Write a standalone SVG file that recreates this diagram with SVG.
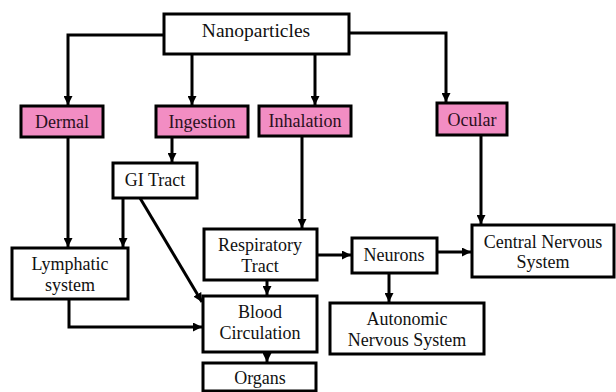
<svg xmlns="http://www.w3.org/2000/svg" width="616" height="392" viewBox="0 0 616 392" font-family="Liberation Serif, DejaVu Serif, serif">
<defs>
<style>
.box{fill:#fff;stroke:#000;stroke-width:3}
.pink{fill:#f28dc3;stroke:#000;stroke-width:3}
text{font-size:18px;fill:#111;text-anchor:middle}
.pt{fill:#2a1020}
.c{fill:none;stroke:#000;stroke-width:3}
</style>
<marker id="ah" viewBox="0 0 10 10" refX="10" refY="5" markerWidth="3" markerHeight="3" orient="auto" markerUnits="strokeWidth">
<path d="M0,0 L10,5 L0,10 Z" fill="#000"/>
</marker>
</defs>
<g id="connectors">
<path class="c" d="M164,35 H68 V105" marker-end="url(#ah)"/>
<path class="c" d="M192,54 V105" marker-end="url(#ah)"/>
<path class="c" d="M315,54 V105" marker-end="url(#ah)"/>
<path class="c" d="M349,33 H446 V102" marker-end="url(#ah)"/>
<path class="c" d="M172,137 V162" marker-end="url(#ah)"/>
<path class="c" d="M68,137 V247" marker-end="url(#ah)"/>
<path class="c" d="M123,198 V247" marker-end="url(#ah)"/>
<path class="c" d="M140,198 L202,302" marker-end="url(#ah)"/>
<path class="c" d="M302,136 V228" marker-end="url(#ah)"/>
<path class="c" d="M267,280 V295" marker-end="url(#ah)"/>
<path class="c" d="M267,352 V362" marker-end="url(#ah)"/>
<path class="c" d="M69,299 V327 H202" marker-end="url(#ah)"/>
<path class="c" d="M317,255 H351" marker-end="url(#ah)"/>
<path class="c" d="M437,252 H471" marker-end="url(#ah)"/>
<path class="c" d="M481,135 V224" marker-end="url(#ah)"/>
<path class="c" d="M389,273 V302" marker-end="url(#ah)"/>
</g>
<g id="nanoparticles"><rect class="box" x="164" y="14" width="185" height="40"/><text x="256" y="37" style="font-size:19.5px">Nanoparticles</text></g>
<g id="dermal"><rect class="pink" x="21" y="106" width="82" height="31"/><text class="pt" x="62" y="128">Dermal</text></g>
<g id="ingestion"><rect class="pink" x="156" y="106" width="92" height="31"/><text class="pt" x="202" y="128">Ingestion</text></g>
<g id="inhalation"><rect class="pink" x="259" y="106" width="92" height="30"/><text class="pt" x="305" y="127">Inhalation</text></g>
<g id="ocular"><rect class="pink" x="437" y="103" width="70" height="32"/><text class="pt" x="472" y="126">Ocular</text></g>
<g id="gi-tract"><rect class="box" x="113" y="163" width="84" height="35"/><text x="155" y="186">GI Tract</text></g>
<g id="lymphatic"><rect class="box" x="12" y="248" width="116" height="51"/><text x="70" y="270">Lymphatic</text><text x="70" y="291">system</text></g>
<g id="respiratory"><rect class="box" x="204" y="229" width="113" height="51"/><text x="260" y="251">Respiratory</text><text x="260" y="272">Tract</text></g>
<g id="blood"><rect class="box" x="203" y="296" width="114" height="56"/><text x="260" y="318">Blood</text><text x="260" y="339">Circulation</text></g>
<g id="organs"><rect class="box" x="203" y="363" width="113" height="28"/><text x="260" y="384">Organs</text></g>
<g id="neurons"><rect class="box" x="352" y="238" width="85" height="35"/><text x="394" y="261">Neurons</text></g>
<g id="cns"><rect class="box" x="472" y="225" width="142" height="52"/><text x="543" y="248">Central Nervous</text><text x="543" y="268">System</text></g>
<g id="autonomic"><rect class="box" x="330" y="303" width="154" height="51"/><text x="407" y="325">Autonomic</text><text x="407" y="346">Nervous System</text></g>
</svg>
